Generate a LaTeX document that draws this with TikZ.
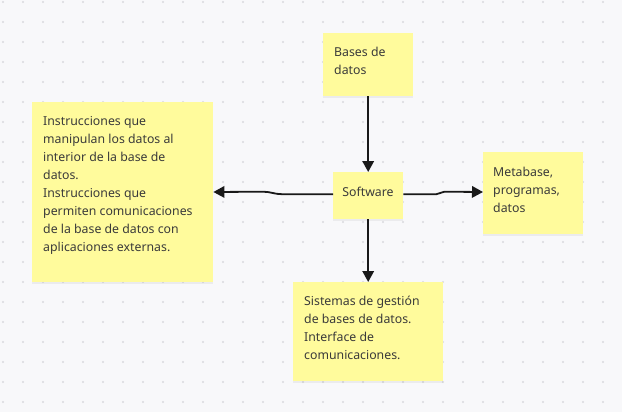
\documentclass[tikz,border=0pt]{standalone}
\usepackage{fontspec}
\setmainfont{Noto Sans}
\usetikzlibrary{arrows.meta,shadows}
\definecolor{bgc}{HTML}{F8F8FA}
\definecolor{dotc}{HTML}{D9D9DE}
\definecolor{notec}{HTML}{FFFB9C}
\definecolor{txtc}{HTML}{3A3A3A}
\tikzset{
  note/.style={fill=notec, draw=none, inner sep=0pt, anchor=north west,
    general shadow={fill=black, opacity=0.05, shadow xshift=0pt, shadow yshift=-2pt}},
  notetext/.style={inner sep=0pt, anchor=north west, align=left, text=txtc,
    font=\fontsize{12.3}{18}\selectfont},
  conn/.style={draw=black!90, line width=1.8pt, -{Triangle[length=11pt,width=11.5pt]}},
}
\begin{document}
\begin{tikzpicture}[x=1pt,y=-1pt]
\useasboundingbox[fill=bgc] (0,0) rectangle (622,412);
\foreach \i in {0,...,30} {
  \foreach \j in {0,...,20} {
    \fill[dotc] (3+20*\i, 2+20*\j) circle[radius=1.1pt];
  }
}
% notes
\node[note, minimum width=90pt, minimum height=63pt] (bases) at (323,33) {};
\node[notetext] (basest) at (334,46.5) {Bases de\\datos};

\node[note, minimum width=70pt, minimum height=47pt] (soft) at (333,172) {};
\node[inner sep=0pt, text=txtc, font=\fontsize{12.3}{18}\selectfont] (softt) at (368,191.5) {Software};

\node[note, minimum width=181pt, minimum height=180pt] (instr) at (32,102) {};
\node[notetext] (instrt) at (43,116.5) {Instrucciones que\\manipulan los datos al\\interior de la base de\\datos.\\Instrucciones que\\permiten comunicaciones\\de la base de datos con\\aplicaciones externas.};

\node[note, minimum width=100pt, minimum height=82pt] (meta) at (483,152) {};
\node[notetext] (metat) at (493,167) {Metabase,\\programas,\\datos};

\node[note, minimum width=150pt, minimum height=99pt] (sgbd) at (293,282) {};
\node[notetext] (sgbdt) at (304,296) {Sistemas de gestión\\de bases de datos.\\Interface de\\comunicaciones.};

% connectors
\draw[conn] (bases.south) -- (soft.north);
\draw[conn] (soft.south) -- (sgbd.north);
\draw[conn] ([yshift=1.5pt]soft.west) -- ++(-51,0) to[out=180,in=0] ++(-19,-2.5) -- (instr.east |- 0,192);
\draw[conn] ([yshift=1.5pt]soft.east) -- ++(33,0) to[out=0,in=180] ++(8,-2.5) -- (meta.west |- 0,192);
\end{tikzpicture}
\end{document}
